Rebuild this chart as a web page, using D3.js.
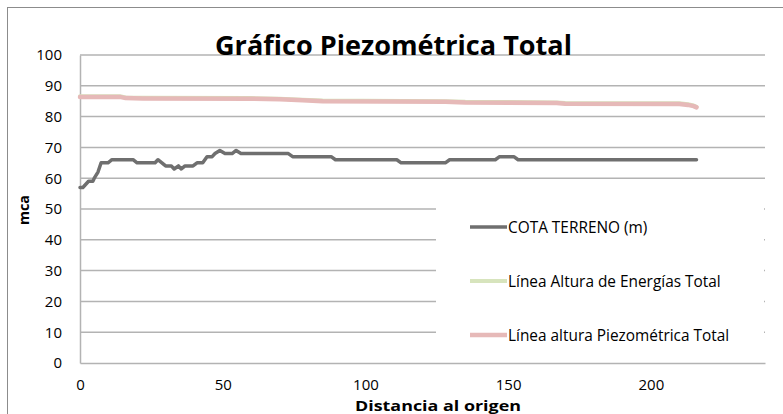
<!DOCTYPE html>
<html>
<head>
<meta charset="utf-8">
<script src="https://cdn.jsdelivr.net/npm/d3@7/dist/d3.min.js"></script>
<style>
  html, body { margin: 0; padding: 0; background: #fff; }
  svg { display: block; font-family: "Open Sans", "Liberation Sans", Arial, sans-serif; }
</style>
</head>
<body>
<svg id="chart" width="783" height="414"></svg>
<script>
// Perfil del terreno (distancia en m, cota en m)
const cotaDist = [0, 1, 3, 4.5, 5, 6.3, 7.4, 9.8, 11.2, 18.6, 20, 26.3, 27.3, 28.7, 30, 32, 33, 34.5, 35.5, 36.8, 39.6, 41, 43, 44.5, 46.3, 47.3, 49, 50.8, 53.3, 54.7, 56.4, 73, 74.5, 88, 89.5, 111, 112.5, 128, 129.5, 145.5, 147, 152, 153.5, 216];
const cotaVal  = [57, 57, 59, 59, 60, 62, 65, 65, 66, 66, 65, 65, 66, 65, 64, 64, 63, 64, 63, 64, 64, 65, 65, 67, 67, 68, 69, 68, 68, 69, 68, 68, 67, 67, 66, 66, 65, 65, 66, 66, 67, 67, 66, 66];

// Líneas de energía y piezométrica
const lineDist   = [0, 14, 16, 22, 60, 70, 78, 85, 128, 135, 167, 170, 210, 213, 215, 216];
const piezoVal   = [86.4, 86.4, 86.0, 85.9, 85.8, 85.6, 85.3, 85.0, 84.8, 84.6, 84.4, 84.2, 84.1, 83.8, 83.4, 83.0];
const energiaVal = [86.6, 86.6, 86.2, 86.1, 86.0, 85.8, 85.5, 85.2, 85.0, 84.8, 84.6, 84.4, 84.3, 84.0, 83.6, 83.2];

const xTicks = [0, 50, 100, 150, 200];
const yTicks = [0, 10, 20, 30, 40, 50, 60, 70, 80, 90, 100];

const seriesNames = ["COTA TERRENO (m)", "Línea Altura de Energías Total", "Línea altura Piezométrica Total"];
const seriesColors = ["#6f6f6f", "#d7e4bd", "#e6b9b8"];

const FONT = "'Open Sans', 'Liberation Sans', Arial, sans-serif";
const svg = d3.select("#chart");

// Marco exterior del gráfico
svg.append("rect")
  .attr("x", 7.5).attr("y", 7.5)
  .attr("width", 800).attr("height", 420)
  .attr("fill", "#fff").attr("stroke", "#8c8c8c").attr("stroke-width", 1);

const plot = { left: 80, right: 765, top: 55, bottom: 363 };

const x = d3.scaleLinear().domain([0, 240]).range([plot.left, plot.right]);
const y = d3.scaleLinear().domain([0, 100]).range([plot.bottom, plot.top]);

// Líneas de división horizontales
const grid = svg.append("g");
grid.selectAll("line").data(yTicks.filter(d => d > 0)).join("line")
  .attr("x1", plot.left).attr("x2", plot.right)
  .attr("y1", d => y(d)).attr("y2", d => y(d))
  .attr("stroke", "#b3b3b3").attr("stroke-width", 1.5);

// Eje Y
const yAxis = svg.append("g")
  .attr("transform", `translate(${plot.left},0)`)
  .call(d3.axisLeft(y).tickValues(yTicks).tickSize(0).tickPadding(18));
yAxis.select(".domain").attr("stroke", "#b3b3b3").attr("stroke-width", 1.5);
yAxis.selectAll("text").attr("font-size", 15).attr("fill", "#000")
  .attr("font-family", FONT);

// Eje X
const xAxis = svg.append("g")
  .attr("transform", `translate(0,${plot.bottom})`)
  .call(d3.axisBottom(x).tickValues(xTicks).tickSize(0).tickPadding(16));
xAxis.select(".domain").attr("stroke", "#b3b3b3").attr("stroke-width", 1.5);
xAxis.selectAll("text").attr("font-size", 15).attr("fill", "#000")
  .attr("font-family", FONT);

// Títulos de ejes
svg.append("text")
  .attr("transform", "translate(29,210) rotate(-90)")
  .attr("text-anchor", "middle")
  .attr("font-size", 15).attr("font-weight", "bold")
  .attr("textLength", 30).attr("lengthAdjust", "spacingAndGlyphs")
  .text("mca");

svg.append("text")
  .attr("x", 438).attr("y", 411)
  .attr("text-anchor", "middle")
  .attr("font-size", 15).attr("font-weight", "bold")
  .attr("textLength", 166).attr("lengthAdjust", "spacingAndGlyphs")
  .text("Distancia al origen");

// Series
const line = d3.line().x(d => x(d[0])).y(d => y(d[1]));
const seriesData = [
  d3.zip(cotaDist, cotaVal),
  d3.zip(lineDist, energiaVal),
  d3.zip(lineDist, piezoVal)
];
const widths = [3.5, 4, 4.5];

svg.append("g").selectAll("path").data(seriesData).join("path")
  .attr("d", line)
  .attr("fill", "none")
  .attr("stroke", (d, i) => seriesColors[i])
  .attr("stroke-width", (d, i) => widths[i])
  .attr("stroke-linejoin", "round")
  .attr("stroke-linecap", "round");

// Leyenda
const legend = svg.append("g");
legend.append("rect")
  .attr("x", 436).attr("y", 192)
  .attr("width", 328).attr("height", 160)
  .attr("fill", "#fff");

const legendY = [227, 281, 335];
const items = legend.selectAll("g.item").data(seriesNames).join("g")
  .attr("class", "item")
  .attr("transform", (d, i) => `translate(0,${legendY[i]})`);
items.append("line")
  .attr("x1", 470).attr("x2", 507)
  .attr("stroke", (d, i) => seriesColors[i])
  .attr("stroke-width", (d, i) => widths[i]);
items.append("text")
  .attr("x", 508).attr("y", 5.5)
  .attr("font-size", 15.4).attr("fill", "#000")
  .text(d => d);

// Título
svg.append("text")
  .attr("x", 393.5).attr("y", 55)
  .attr("text-anchor", "middle")
  .attr("font-size", 26).attr("font-weight", "bold")
  .attr("textLength", 357).attr("lengthAdjust", "spacingAndGlyphs")
  .text("Gráfico Piezométrica Total");
</script>
</body>
</html>
